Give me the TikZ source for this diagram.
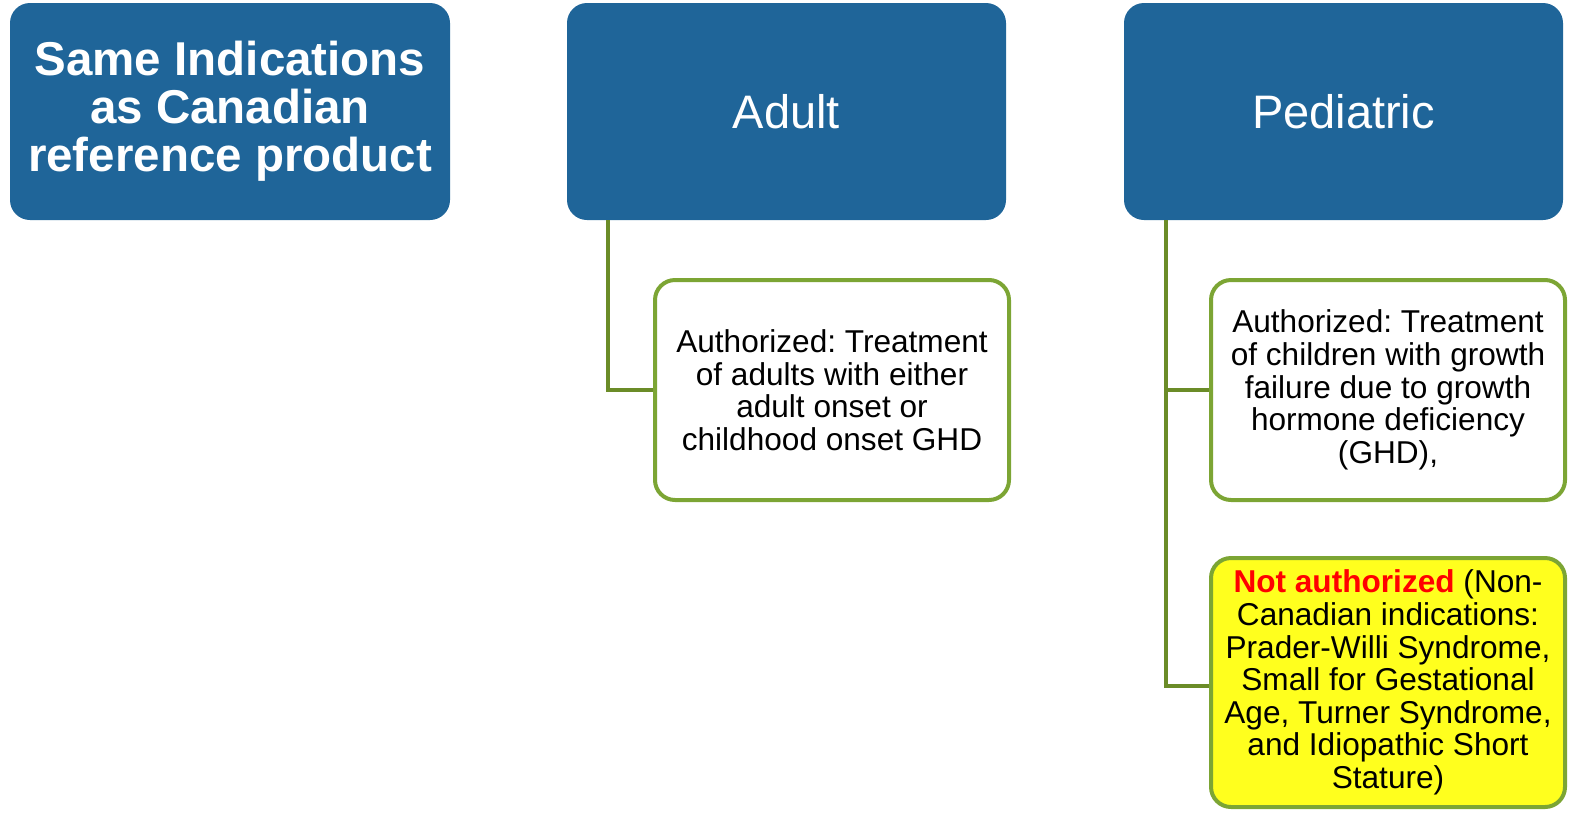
\documentclass[tikz,border=0pt]{standalone}
\usepackage{fontspec}
\setmainfont{Liberation Sans}
\frenchspacing
\definecolor{hdblue}{RGB}{31,101,153}
\definecolor{bordgreen}{RGB}{124,165,52}
\definecolor{conngreen}{RGB}{107,140,40}
\definecolor{ylw}{RGB}{255,255,30}
\begin{document}
\begin{tikzpicture}[x=1pt,y=-1pt,
  head/.style={rounded corners=20pt, fill=hdblue, draw=none, minimum width=439pt, minimum height=217pt, inner sep=0pt, text=white, align=center},
  sub/.style={rounded corners=20pt, draw=bordgreen, line width=4pt, fill=white, minimum width=354pt, minimum height=220pt, inner sep=0pt, align=center, font=\frenchspacing\fontsize{31.6}{32.6}\selectfont},
  conn/.style={draw=conngreen, line width=4pt}]
\useasboundingbox (0,0) rectangle (1571,812);
\node[head, minimum width=440pt, font=\bfseries\fontsize{47.5}{48}\selectfont] (same) at (230,111.5) {Same Indications\\as Canadian\\reference product};
\node[head, font=\fontsize{47}{48}\selectfont] (adult) at (786.5,111.5) {Adult};
\node[head, font=\fontsize{47}{48}\selectfont] (ped) at (1343.5,111.5) {Pediatric};
\node[sub] (ga) at (832,390) {Authorized: Treatment\\of adults with either\\adult onset or\\childhood onset GHD};
\node[sub] (gp) at (1388,390) {Authorized: Treatment\\of children with growth\\failure due to growth\\hormone deficiency\\(GHD),};
\node[sub, fill=ylw, minimum height=249pt] (yp) at (1388,682.5) {\textcolor{red}{\bfseries Not authorized} (Non-\\Canadian indications:\\Prader-Willi Syndrome,\\Small for Gestational\\Age, Turner Syndrome,\\and Idiopathic Short\\Stature)};
\draw[conn] ([xshift=41pt]adult.south west) |- (ga.west);
\draw[conn] ([xshift=42pt]ped.south west) |- (gp.west);
\draw[conn] ([xshift=42pt]ped.south west) |- ([yshift=-3pt]yp.west);
\end{tikzpicture}
\end{document}
